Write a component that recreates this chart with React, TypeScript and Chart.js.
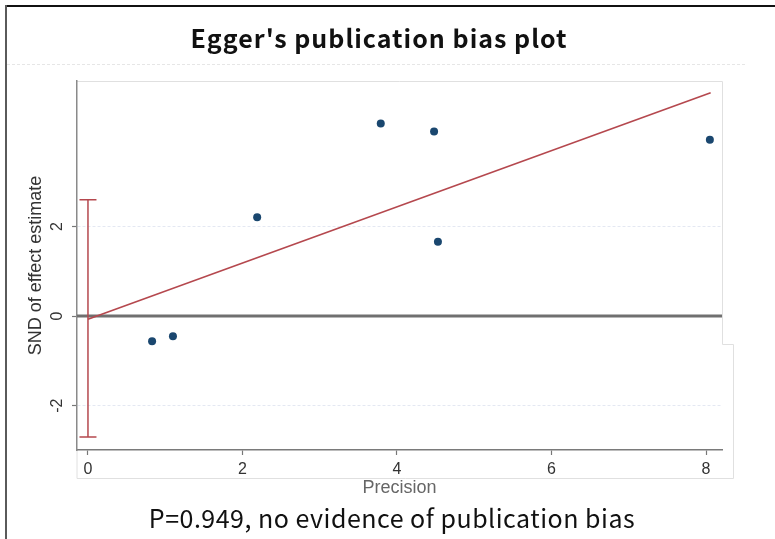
import React, { useEffect, useRef } from "react";
import { Chart, registerables } from "chart.js";

Chart.register(...registerables);

const TITLE = "Egger's publication bias plot";
const FOOTER = "P=0.949, no evidence of publication bias";
const X_LABEL = "Precision";
const Y_LABEL = "SND of effect estimate";

const PRECISION = [0.83, 1.1, 2.19, 3.79, 4.48, 4.53, 8.05];
const SND = [-0.56, -0.45, 2.21, 4.3, 4.12, 1.66, 3.94];

const FIT_X = [0, 8.06];
const FIT_Y = [-0.07, 4.99];

const CI_X = 0;
const CI_LOW = -2.7;
const CI_HIGH = 2.6;
const REF_Y = 0;

const X_TICKS = [0, 2, 4, 6, 8];
const Y_TICKS = [-2, 0, 2];
const X_RANGE = [-0.142, 8.207];
const Y_RANGE = [-2.99, 5.25];

const decor = {
  id: "decor",
  beforeDraw(chart: any) {
    const ctx = chart.ctx;
    const { left, right, top, bottom } = chart.chartArea;
    ctx.save();
    ctx.fillStyle = "#ffffff";
    ctx.fillRect(0, 0, chart.width, chart.height);
    ctx.fillStyle = "#111111";
    ctx.fillRect(5, 5, 770, 2);
    ctx.fillStyle = "#5a5a5a";
    ctx.fillRect(5, 5, 2, 534);
    ctx.strokeStyle = "#e6e6e6";
    ctx.lineWidth = 1;
    ctx.setLineDash([3, 2]);
    ctx.beginPath();
    ctx.moveTo(7, 64.5);
    ctx.lineTo(745, 64.5);
    ctx.stroke();
    ctx.setLineDash([]);
    ctx.strokeStyle = "#e0e0e0";
    ctx.beginPath();
    ctx.moveTo(left, top + 0.5);
    ctx.lineTo(right + 0.5, top + 0.5);
    ctx.lineTo(right + 0.5, 344.5);
    ctx.lineTo(733.5, 344.5);
    ctx.lineTo(733.5, 478.5);
    ctx.lineTo(left, 478.5);
    ctx.lineTo(left, bottom);
    ctx.stroke();
    ctx.restore();
  },
  beforeDatasetsDraw(chart: any) {
    const ctx = chart.ctx;
    const { left, right } = chart.chartArea;
    const xs = chart.scales.x;
    const ys = chart.scales.y;
    ctx.save();
    const y0 = ys.getPixelForValue(REF_Y);
    ctx.strokeStyle = "#707070";
    ctx.lineWidth = 3;
    ctx.beginPath();
    ctx.moveTo(left, y0);
    ctx.lineTo(right, y0);
    ctx.stroke();
    const cx = xs.getPixelForValue(CI_X);
    const yHi = ys.getPixelForValue(CI_HIGH);
    const yLo = ys.getPixelForValue(CI_LOW);
    ctx.strokeStyle = "#b5484e";
    ctx.lineWidth = 1.5;
    ctx.beginPath();
    ctx.moveTo(cx, yHi);
    ctx.lineTo(cx, yLo);
    ctx.moveTo(cx - 8.5, yHi);
    ctx.lineTo(cx + 8.5, yHi);
    ctx.moveTo(cx - 8.5, yLo);
    ctx.lineTo(cx + 8.5, yLo);
    ctx.stroke();
    ctx.restore();
  },
  afterDraw(chart: any) {
    const ctx = chart.ctx;
    const { left, right, top, bottom } = chart.chartArea;
    const ys = chart.scales.y;
    ctx.save();
    ctx.textAlign = "center";
    ctx.textBaseline = "middle";
    ctx.fillStyle = "#111111";
    ctx.font = "bold 25px 'Noto Sans CJK SC', 'Noto Sans', sans-serif";
    (ctx as any).letterSpacing = "1px";
    ctx.fillText(TITLE, 379, 38);
    ctx.font = "25px 'Noto Sans CJK SC', 'Noto Sans', sans-serif";
    (ctx as any).letterSpacing = "0.5px";
    ctx.fillText(FOOTER, 392, 518);
    (ctx as any).letterSpacing = "0px";
    ctx.fillStyle = "#666666";
    ctx.font = "18px 'Liberation Sans', Arial, sans-serif";
    ctx.fillText(X_LABEL, (left + right) / 2, 488);
    ctx.fillStyle = "#333333";
    ctx.font = "16px 'Liberation Sans', Arial, sans-serif";
    for (const t of ys.ticks) {
      const py = ys.getPixelForValue(t.value);
      ctx.save();
      ctx.translate(58, py);
      ctx.rotate(-Math.PI / 2);
      ctx.fillText(String(t.value), 0, 0);
      ctx.restore();
    }
    ctx.font = "18px 'Liberation Sans', Arial, sans-serif";
    ctx.save();
    ctx.translate(36, (top + bottom) / 2);
    ctx.rotate(-Math.PI / 2);
    ctx.fillText(Y_LABEL, 0, 0);
    ctx.restore();
    ctx.restore();
  },
};

export default function App() {
  const ref = useRef<HTMLCanvasElement | null>(null);
  useEffect(() => {
    if (!ref.current) return;
    const chart = new Chart(ref.current, {
      type: "scatter",
      data: {
        datasets: [
          {
            label: "Studies",
            data: PRECISION.map((x, i) => ({ x, y: SND[i] })),
            backgroundColor: "#1a476f",
            borderWidth: 0,
            pointRadius: 4,
            showLine: false,
          },
          {
            label: "Regression line",
            data: FIT_X.map((x, i) => ({ x, y: FIT_Y[i] })),
            borderColor: "#b5484e",
            borderWidth: 1.6,
            pointRadius: 0,
            showLine: true,
          },
        ],
      },
      options: {
        animation: false,
        responsive: false,
        devicePixelRatio: 1,
        layout: { padding: { top: 81, left: 0, right: 53, bottom: 0 } },
        plugins: {
          legend: { display: false },
          title: { display: false },
          tooltip: { enabled: false },
        },
        scales: {
          x: {
            type: "linear",
            min: X_RANGE[0],
            max: X_RANGE[1],
            afterBuildTicks: (s: any) => {
              s.ticks = X_TICKS.map((v) => ({ value: v }));
            },
            afterFit: (s: any) => {
              s.height = 89;
            },
            grid: {
              drawOnChartArea: false,
              drawTicks: true,
              tickLength: 5,
              tickColor: "#777777",
              tickWidth: 1.2,
            },
            border: { display: true, color: "#7a7a7a", width: 1.5 },
            ticks: {
              padding: 5,
              color: "#333333",
              font: { family: "'Liberation Sans', Arial, sans-serif", size: 16 },
              maxRotation: 0,
            },
          },
          y: {
            type: "linear",
            min: Y_RANGE[0],
            max: Y_RANGE[1],
            afterBuildTicks: (s: any) => {
              s.ticks = Y_TICKS.map((v) => ({ value: v }));
            },
            afterFit: (s: any) => {
              s.width = 77;
            },
            grid: {
              drawOnChartArea: true,
              drawTicks: true,
              tickLength: 5,
              color: (c: any) => (c.tick && c.tick.value === 0 ? "rgba(0,0,0,0)" : "#e4e8f2"),
              tickColor: "#777777",
              tickWidth: 1.2,
            },
            border: { display: true, color: "#8a8a8a", width: 1.5, dash: [3, 2] },
            ticks: { color: "rgba(0,0,0,0)", font: { size: 14 } },
          },
        },
      },
      plugins: [decor],
    });
    return () => chart.destroy();
  }, []);
  return (
    <div style={{ position: "absolute", left: 0, top: 0, width: 775, height: 539 }}>
      <canvas ref={ref} width={775} height={539} style={{ display: "block" }} />
    </div>
  );
}
